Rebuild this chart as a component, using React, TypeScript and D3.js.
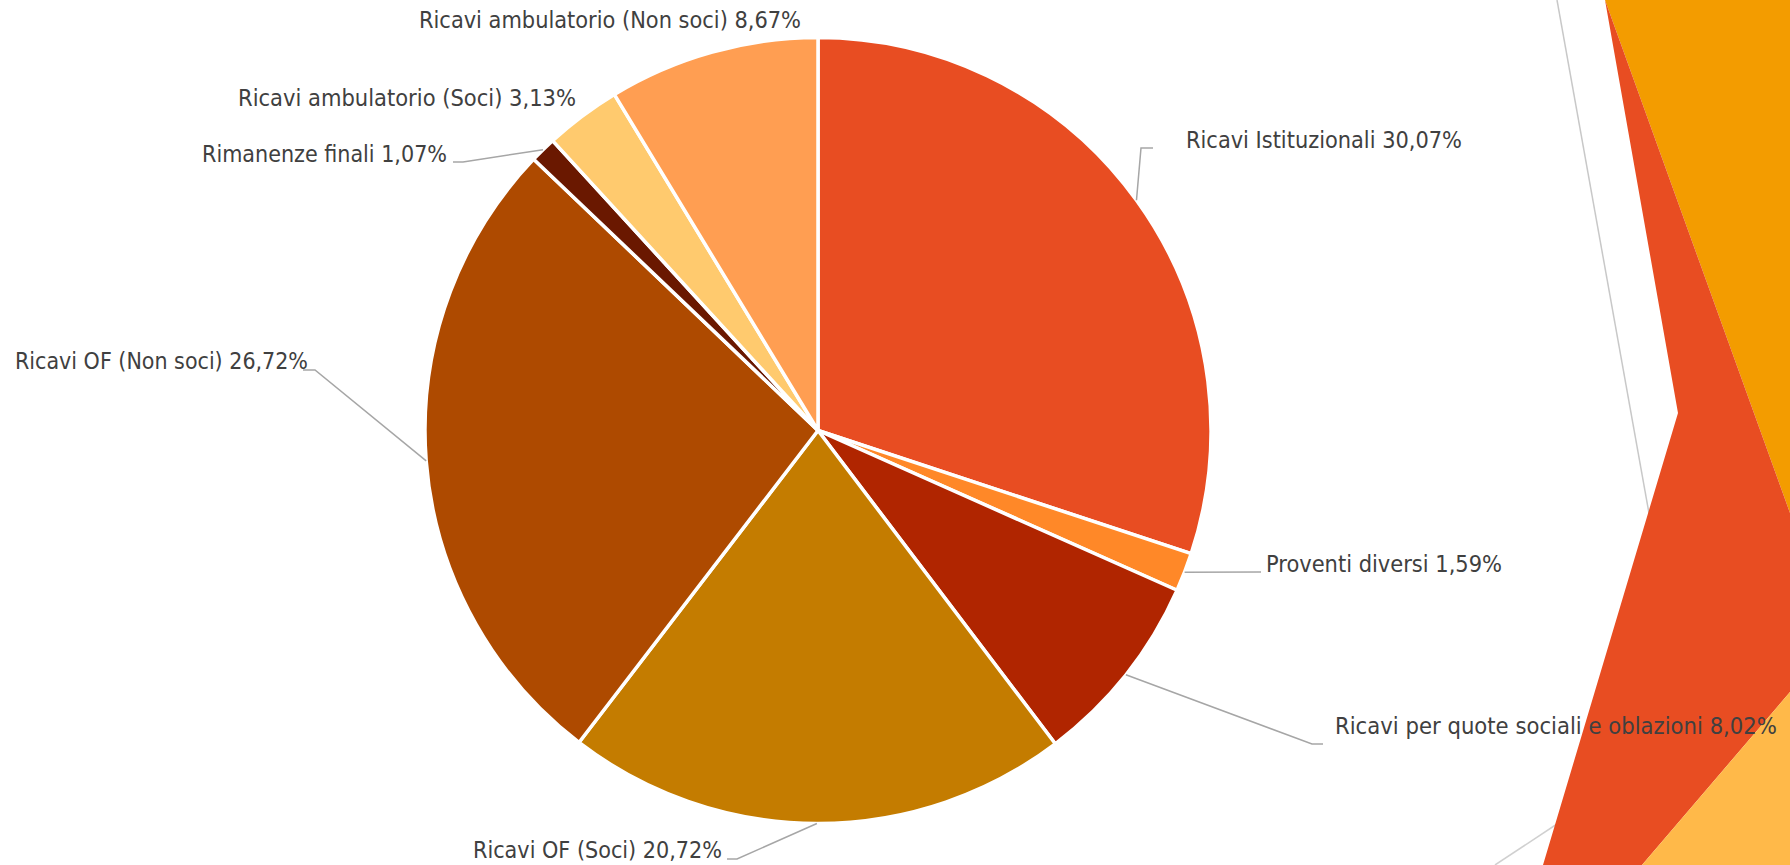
import React from "react";
import * as d3 from "d3";

const categories = [
  "Ricavi Istituzionali",
  "Proventi diversi",
  "Ricavi per quote sociali e oblazioni",
  "Ricavi OF (Soci)",
  "Ricavi OF (Non soci)",
  "Rimanenze finali",
  "Ricavi ambulatorio (Soci)",
  "Ricavi ambulatorio (Non soci)",
];
const values = [30.07, 1.59, 8.02, 20.72, 26.72, 1.07, 3.13, 8.67];
const labelTexts = ["30,07%", "1,59%", "8,02%", "20,72%", "26,72%", "1,07%", "3,13%", "8,67%"];

const colors = ["#E84D22", "#FF8828", "#B02500", "#C47C00", "#AE4A00", "#6A1800", "#FFCA6E", "#FF9E52"];

// label layout: leader bend points and text anchor (px), text width
const labelLayout = [
  { pts: [[1141, 148], [1153, 148]], tx: 1186, ty: 148, anchor: "start", w: 276 },
  { pts: [[1261, 572]], tx: 1266, ty: 572, anchor: "start", w: 236 },
  { pts: [[1312, 744], [1323, 744]], tx: 1335, ty: 734, anchor: "start", w: 442 },
  { pts: [[737, 859], [727, 859]], tx: 722, ty: 858, anchor: "end", w: 249 },
  { pts: [[315, 370], [303, 370]], tx: 308, ty: 369, anchor: "end", w: 293 },
  { pts: [[463, 162], [453, 162]], tx: 447, ty: 162, anchor: "end", w: 245 },
  { pts: [], tx: 576, ty: 106, anchor: "end", w: 338 },
  { pts: [], tx: 610, ty: 28, anchor: "middle", w: 382 },
];

const W = 1790;
const H = 865;
const cx = 818;
const cy = 430.5;
const R = 393;

export default function App() {
  const pie = d3.pie<number>().sort(null).value((d) => d)(values);
  const arc = d3.arc<d3.PieArcDatum<number>>().innerRadius(0).outerRadius(R);
  const edge = d3.arc<d3.PieArcDatum<number>>().innerRadius(R).outerRadius(R);

  return (
    <svg
      width={W}
      height={H}
      style={{ position: "absolute", left: 0, top: 0, display: "block", background: "#fff" }}
    >
      {/* theme decoration */}
      <line x1={1557} y1={0} x2={1652} y2={530} stroke="#C8C8C8" strokeWidth={1.5} />
      <line x1={1495} y1={865} x2={1560} y2={822} stroke="#D0D0D0" strokeWidth={1.5} />
      <polygon points="1605,0 1790,0 1790,513" fill="#F39C00" />
      <polygon points="1605,0 1790,513 1790,692 1642,865 1543,865 1678,413" fill="#E84D22" />
      <polygon points="1790,692 1790,865 1642,865" fill="#FFB949" />

      <g transform={`translate(${cx},${cy})`}>
        {pie.map((p, i) => (
          <path key={i} d={arc(p) || ""} fill={colors[i]} stroke="#fff" strokeWidth={3.5} strokeLinejoin="round" />
        ))}
      </g>

      {pie.map((p, i) => {
        const L = labelLayout[i];
        if (!L.pts.length) return null;
        const [ex, ey] = edge.centroid(p);
        const pts = [[cx + ex, cy + ey], ...L.pts];
        return (
          <polyline
            key={"l" + i}
            points={pts.map((q) => q.join(",")).join(" ")}
            fill="none"
            stroke="#A6A6A6"
            strokeWidth={1.5}
          />
        );
      })}

      {categories.map((c, i) => {
        const L = labelLayout[i];
        return (
          <text
            key={"t" + i}
            x={L.tx}
            y={L.ty}
            textAnchor={L.anchor as any}
            fontFamily="'DejaVu Sans Condensed', 'DejaVu Sans', sans-serif"
            fontSize={23}
            fill="#404040"
            textLength={L.w}
            lengthAdjust="spacingAndGlyphs"
          >
            {`${c} ${labelTexts[i]}`}
          </text>
        );
      })}
    </svg>
  );
}
